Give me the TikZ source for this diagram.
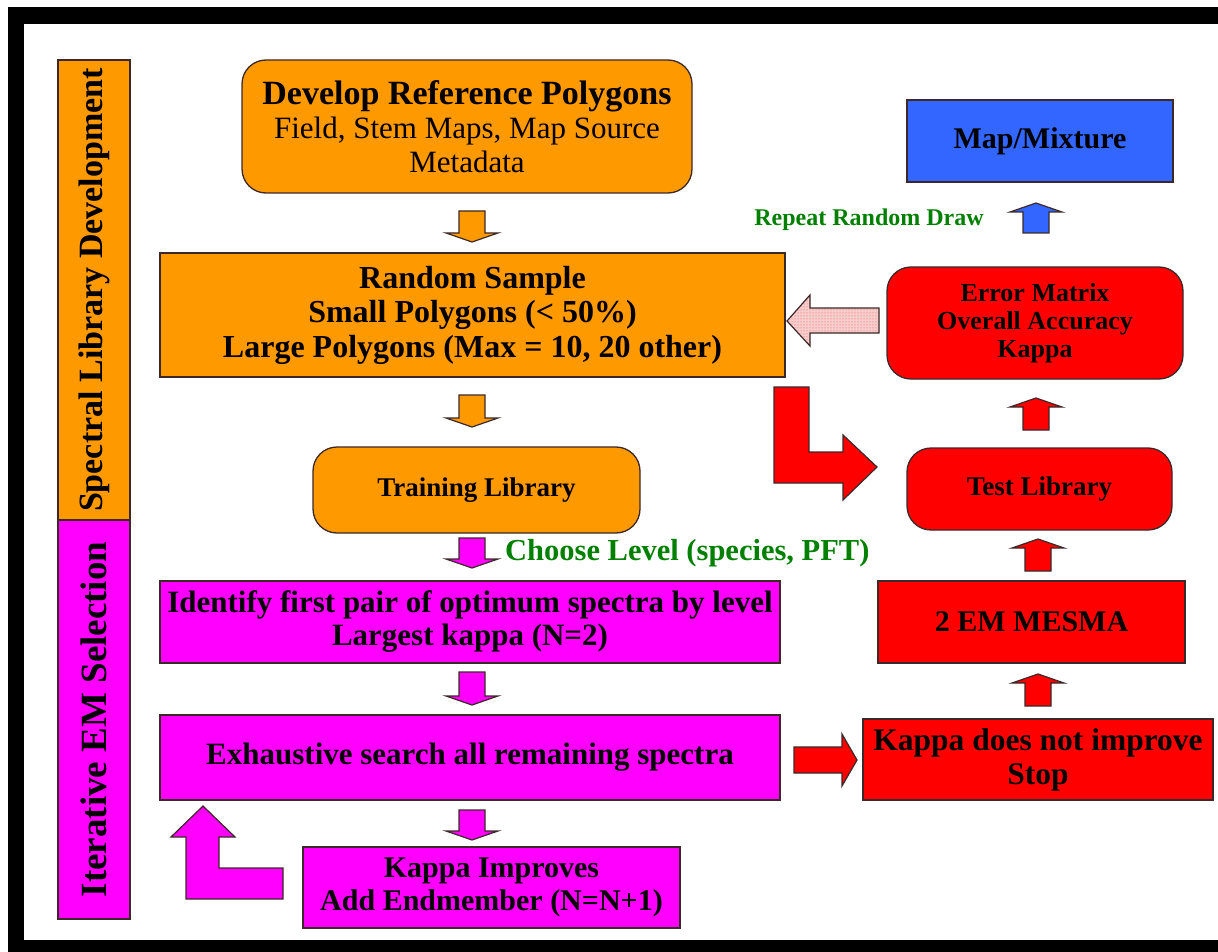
\documentclass[tikz,border=0pt]{standalone}
\usepackage{fontspec}
\setmainfont{Liberation Serif}
\usetikzlibrary{patterns}
\definecolor{orng}{RGB}{255,153,0}
\definecolor{mgnt}{RGB}{255,0,255}
\definecolor{rd}{RGB}{255,0,0}
\definecolor{bl}{RGB}{51,102,255}
\definecolor{grn}{RGB}{0,128,0}
\definecolor{edge}{RGB}{60,40,40}
\definecolor{pnk}{RGB}{245,205,205}
\newcommand\fs[2]{\fontsize{#1}{#2}\selectfont}
\newcommand\DnArrow[4]{\draw[blk,fill=#4] (#1-13,#2) -- (#1+13,#2) -- (#1+13,#3-9) -- (#1+26,#3-9) -- (#1,#3) -- (#1-26,#3-9) -- (#1-13,#3-9) -- cycle;}
\newcommand\UpArrow[4]{\draw[blk,fill=#4] (#1-13,#3) -- (#1+13,#3) -- (#1+13,#2+9) -- (#1+26,#2+9) -- (#1,#2) -- (#1-26,#2+9) -- (#1-13,#2+9) -- cycle;}
\tikzset{
  box/.style={draw=edge,line width=1.3pt,inner sep=0pt,align=center,font=\bfseries\fs{31}{34}},
  rbox/.style={box,rounded corners=24pt},
  blk/.style={draw=edge,line width=1.2pt,line join=miter},
}
\begin{document}
\begin{tikzpicture}[x=1pt,y=-1pt]
\useasboundingbox (0,0) rectangle (1218,952);
\fill[white] (0,0) rectangle (1218,952);
% frame
\fill[black] (8,7) rectangle (1218,24);
\fill[black] (8,7) rectangle (24,952);
\fill[black] (8,940) rectangle (1218,952);
% side bars
\node[box,fill=orng,minimum width=72pt,minimum height=460pt] (side1) at (94,290) {};
\node[rotate=90,font=\bfseries\fs{34}{40}] at (side1.center) {Spectral Library Development};
\node[box,fill=mgnt,minimum width=72pt,minimum height=399pt] (side2) at (94,719.5) {};
\node[rotate=90,font=\bfseries\fs{37}{40}] at (side2.center) {Iterative EM Selection};
% left column
\node[rbox,fill=orng,minimum width=450pt,minimum height=133pt,font=\fs{31}{34}] (devel) at (467,126.5)
  {\textbf{\fs{34}{36}Develop Reference Polygons}\\Field, Stem Maps, Map Source\\Metadata};
\node[box,fill=orng,minimum width=625pt,minimum height=124pt,font=\bfseries\fs{32}{34.5}] (rands) at (472.5,315)
  {Random Sample\\Small Polygons (< 50\%)\\Large Polygons (Max = 10, 20 other)};
\node[rbox,fill=orng,minimum width=327pt,minimum height=86pt,font=\bfseries\fs{27}{30}] (train) at (476.5,490) {Training Library};
\node[box,fill=mgnt,minimum width=620pt,minimum height=82pt,font=\bfseries\fs{31}{33}] (ident) at (470,622)
  {Identify first pair of optimum spectra by level\\Largest kappa (N=2)};
\node[box,fill=mgnt,minimum width=620pt,minimum height=85pt] (exh) at (470,757.5)
  {Exhaustive search all remaining spectra};
\node[box,fill=mgnt,minimum width=377pt,minimum height=81pt,font=\bfseries\fs{30}{33}] (kimp) at (491.5,887.5)
  {Kappa Improves\\Add Endmember (N=N+1)};
% right column
\node[box,fill=bl,minimum width=266pt,minimum height=82pt,font=\bfseries\fs{30}{33}] (map) at (1040,141) {Map/Mixture};
\node[rbox,fill=rd,minimum width=296pt,minimum height=112pt,font=\bfseries\fs{26}{28}] (err) at (1035,323)
  {Error Matrix\\Overall Accuracy\\Kappa};
\node[rbox,fill=rd,minimum width=265pt,minimum height=82pt,font=\bfseries\fs{27}{30}] (test) at (1039.5,489) {Test Library};
\node[box,fill=rd,minimum width=307pt,minimum height=82pt,font=\bfseries\fs{30}{33}] (mesma) at (1031.5,622) {2 EM MESMA};
\node[box,fill=rd,minimum width=350pt,minimum height=81pt,font=\bfseries\fs{31.5}{34}] (kstop) at (1038,759.5)
  {Kappa does not improve\\Stop};
% green labels
\node[font=\bfseries\fs{24}{28},text=grn] (rep) at (869,220) {Repeat Random Draw};
\node[font=\bfseries\fs{30.5}{33},text=grn,anchor=west,inner sep=0pt] (choose) at (505,553) {Choose Level (species, PFT)};
% block arrows
\DnArrow{472}{211}{242}{orng}
\DnArrow{472}{395}{427}{orng}
\DnArrow{472}{538}{568}{mgnt}
\DnArrow{472}{672}{705}{mgnt}
\DnArrow{472}{810}{840}{mgnt}
\UpArrow{1036}{203}{233}{bl}
\UpArrow{1036}{398}{430}{rd}
\UpArrow{1038}{539}{571}{rd}
\UpArrow{1038}{674}{706}{rd}
% pink hatched arrow (err -> rands)
\path[fill=pnk] (787,321) -- (810,295) -- (810,308) -- (879,308) -- (879,333) -- (810,333) -- (810,346) -- cycle;
\path[pattern=dots,pattern color=rd!70] (787,321) -- (810,295) -- (810,308) -- (879,308) -- (879,333) -- (810,333) -- (810,346) -- cycle;
\draw[blk] (787,321) -- (810,295) -- (810,308) -- (879,308) -- (879,333) -- (810,333) -- (810,346) -- cycle;
% red L arrow
\draw[blk,fill=rd] (774,387) -- (809,387) -- (809,452) -- (843,452) -- (843,435) -- (877,467) -- (843,500) -- (843,483) -- (774,483) -- cycle;
% red right arrow
\draw[blk,fill=rd] (794,747) -- (842,747) -- (842,734) -- (857,760) -- (842,786) -- (842,773) -- (794,773) -- cycle;
% magenta L arrow
\draw[blk,fill=mgnt] (203,806) -- (235,837) -- (219,837) -- (219,868) -- (283,868) -- (283,899) -- (186,899) -- (186,837) -- (171,837) -- cycle;
\end{tikzpicture}
\end{document}
